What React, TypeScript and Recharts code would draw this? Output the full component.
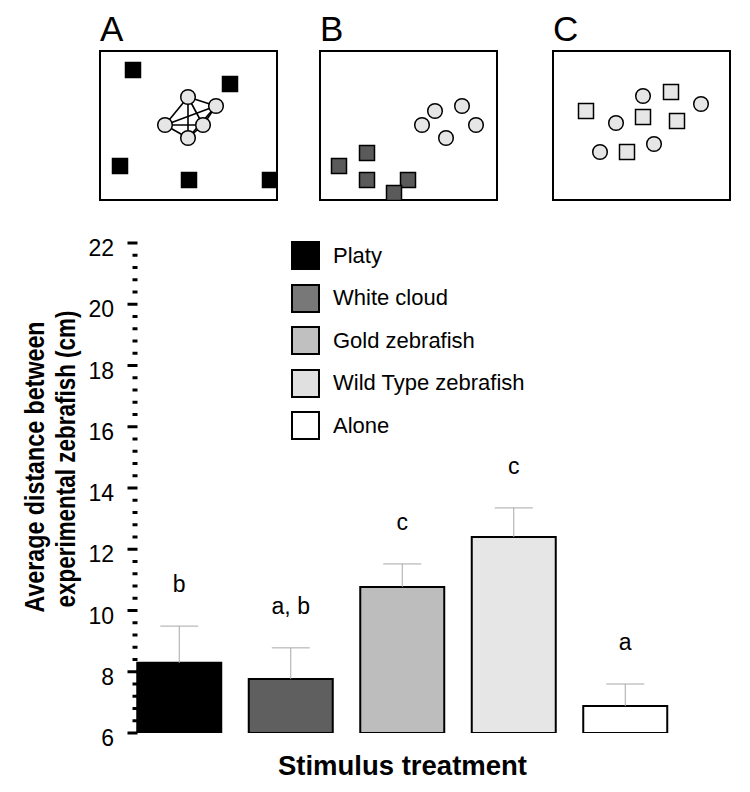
import React from 'react';
import {
  BarChart, Bar, XAxis, YAxis, Cell, LabelList, Legend,
  ScatterChart, Scatter, ReferenceLine,
} from 'recharts';

// bar chart data
const treatments = ['Platy', 'White cloud', 'Gold zebrafish', 'Wild Type zebrafish', 'Alone'];
const means = [8.29, 7.76, 10.77, 12.4, 6.88];
const sems = [1.2, 1.02, 0.75, 0.95, 0.72];
const letters = ['b', 'a, b', 'c', 'c', 'a'];
const barColors = ['#000000', '#5f5f5f', '#bdbdbd', '#e6e6e6', '#ffffff'];
const legendColors = ['#000000', '#787878', '#c0c0c0', '#e0e0e0', '#ffffff'];
const yMajorTicks = [6, 8, 10, 12, 14, 16, 18, 20, 22];

// schematic panels (box-local positions, box is 179 x 151)
const panelLabels = ['A', 'B', 'C'];
const aSquares = [{ x: 34, y: 20 }, { x: 131, y: 34 }, { x: 21, y: 116 }, { x: 90, y: 130 }, { x: 171, y: 130 }];
const aCircles = [{ x: 89, y: 47 }, { x: 117, y: 56 }, { x: 66, y: 75 }, { x: 104, y: 75 }, { x: 89, y: 88 }];
const aLinks = [[0, 1], [0, 2], [0, 3], [0, 4], [1, 2], [1, 3], [1, 4], [2, 3], [2, 4], [3, 4]];
const bSquares = [{ x: 48, y: 103 }, { x: 20, y: 116 }, { x: 48, y: 130 }, { x: 89, y: 130 }, { x: 75, y: 143 }];
const bCircles = [{ x: 116, y: 61 }, { x: 143, y: 56 }, { x: 103, y: 75 }, { x: 157, y: 75 }, { x: 127, y: 88 }];
const cSquares = [{ x: 34, y: 61 }, { x: 119, y: 42 }, { x: 91, y: 67 }, { x: 125, y: 71 }, { x: 75, y: 102 }];
const cCircles = [{ x: 91, y: 46 }, { x: 149, y: 54 }, { x: 64, y: 73 }, { x: 102, y: 94 }, { x: 48, y: 102 }];

const FONT = '"Liberation Sans", Arial, Helvetica, sans-serif';
const AXIS_X = 136.5;

const data = treatments.map((name, i) => ({
  name,
  mean: means[i],
  err: [means[i], means[i] + sems[i]],
  letter: letters[i],
}));

// dotted axis: minor tick every 0.4
const yTicks = yMajorTicks.flatMap((t, i) => (i === 0 ? [t] : [t - 1.6, t - 1.2, t - 0.8, t - 0.4, t]));

const YTick = (props: any) => {
  const { y, payload } = props;
  const v = payload.value;
  const major = Math.abs(v - Math.round(v)) < 0.01 && Math.round(v) % 2 === 0;
  return (
    <g>
      <rect x={major ? AXIS_X - 9 : AXIS_X - 4} y={y - 1.5} width={major ? 10 : 5} height={3} fill="#000" />
      {major && (
        <text x={114} y={y} dy={13} textAnchor="end" fontSize={23} fontFamily={FONT} fill="#000">
          {Math.round(v)}
        </text>
      )}
    </g>
  );
};

const ErrorShape = (props: any) => {
  const { x, y, width, height } = props;
  const top = Math.min(y, y + height);
  const bottom = Math.max(y, y + height);
  const cx = x + width / 2;
  return (
    <g stroke="#a8a8a8" strokeWidth={1}>
      <line x1={cx} y1={bottom} x2={cx} y2={top} />
      <line x1={cx - 19} y1={top} x2={cx + 19} y2={top} />
    </g>
  );
};

const LetterLabel = (props: any) => {
  const { x, y, width, height, value } = props;
  const top = Math.min(y, y + height);
  return (
    <text x={x + width / 2} y={top - 34} textAnchor="middle" fontSize={23} fontFamily={FONT} fill="#000">
      {value}
    </text>
  );
};

const YTitle = () => (
  <g fontFamily={FONT} fontWeight="bold" fontSize={28} fill="#000">
    <text x={44} y={467} transform="rotate(-90 44 467)" textAnchor="middle" textLength={291} lengthAdjust="spacingAndGlyphs">
      Average distance between
    </text>
    <text x={75} y={459} transform="rotate(-90 75 459)" textAnchor="middle" textLength={297} lengthAdjust="spacingAndGlyphs">
      experimental zebrafish (cm)
    </text>
  </g>
);

const LegendBox = () => (
  <div style={{ fontFamily: FONT, fontSize: 22, color: '#000' }}>
    {treatments.map((t, i) => (
      <div key={t} style={{ display: 'flex', alignItems: 'center', height: 29, marginBottom: 13.5 }}>
        <div style={{ width: 29, height: 29, boxSizing: 'border-box', border: '2px solid #000', background: legendColors[i] }} />
        <span style={{ marginLeft: 13 }}>{t}</span>
      </div>
    ))}
  </div>
);

const Panel = ({ left, label, squares, circles, squareFill, links }: any) => (
  <div style={{ position: 'absolute', left, top: 0 }}>
    <div style={{ position: 'absolute', left: 1, top: 10.5, fontFamily: FONT, fontSize: 35, lineHeight: '35px' }}>
      {label}
    </div>
    <div style={{ position: 'absolute', left: 0, top: 50, width: 179, height: 151, boxSizing: 'border-box', border: '2px solid #000' }} />
    <div style={{ position: 'absolute', left: 0, top: 50 }}>
      <ScatterChart width={179} height={151} margin={{ top: 0, right: 0, bottom: 0, left: 0 }}>
        <XAxis type="number" dataKey="x" domain={[0, 179]} hide />
        <YAxis type="number" dataKey="y" domain={[0, 151]} reversed hide />
        {links.map(([a, b]: number[], i: number) => (
          <ReferenceLine
            key={i}
            segment={[{ x: circles[a].x, y: circles[a].y }, { x: circles[b].x, y: circles[b].y }]}
            stroke="#000"
            strokeWidth={1.6}
            ifOverflow="visible"
          />
        ))}
        <Scatter
          data={squares}
          isAnimationActive={false}
          shape={(p: any) => (
            <rect x={p.cx - 7.5} y={p.cy - 7.5} width={15} height={15} fill={squareFill} stroke="#000" strokeWidth={1.5} />
          )}
        />
        <Scatter
          data={circles}
          isAnimationActive={false}
          shape={(p: any) => <circle cx={p.cx} cy={p.cy} r={7.3} fill="#e6e6e6" stroke="#000" strokeWidth={1.5} />}
        />
      </ScatterChart>
    </div>
  </div>
);

export default function App() {
  return (
    <div style={{ position: 'relative', width: 750, height: 792, background: '#fff', overflow: 'hidden' }}>
      <style>{'body{margin:0;background:#fff}'}</style>
      <div style={{ position: 'absolute', left: 0, top: 0 }}>
        <BarChart width={750} height={792} data={data} margin={{ top: 243, right: 69.25, bottom: 59, left: 0 }}>
          <XAxis xAxisId="m" dataKey="name" hide />
          <XAxis xAxisId="e" dataKey="name" hide />
          <YAxis
            width={123.25}
            type="number"
            domain={[6, 22]}
            allowDataOverflow
            ticks={yTicks}
            interval={0}
            axisLine={false}
            tickLine={false}
            tick={<YTick />}
            label={<YTitle />}
          />
          <Legend
            layout="vertical"
            align="center"
            verticalAlign="middle"
            content={<LegendBox />}
            wrapperStyle={{ top: 241, left: 291, width: 'auto', height: 'auto' }}
          />
          <Bar xAxisId="m" dataKey="mean" barSize={84} stroke="#000" strokeWidth={2} isAnimationActive={false}>
            {data.map((d, i) => (
              <Cell key={d.name} fill={barColors[i]} />
            ))}
          </Bar>
          <Bar xAxisId="e" dataKey="err" barSize={84} shape={<ErrorShape />} isAnimationActive={false}>
            <LabelList dataKey="letter" content={<LetterLabel />} />
          </Bar>
          <text x={402.5} y={775} textAnchor="middle" fontFamily={FONT} fontWeight="bold" fontSize={27.5} fill="#000">
            Stimulus treatment
          </text>
        </BarChart>
      </div>
      <Panel left={99} label={panelLabels[0]} squares={aSquares} circles={aCircles} squareFill="#000" links={aLinks} />
      <Panel left={319} label={panelLabels[1]} squares={bSquares} circles={bCircles} squareFill="#5a5a5a" links={[]} />
      <Panel left={552} label={panelLabels[2]} squares={cSquares} circles={cCircles} squareFill="#e6e6e6" links={[]} />
    </div>
  );
}
